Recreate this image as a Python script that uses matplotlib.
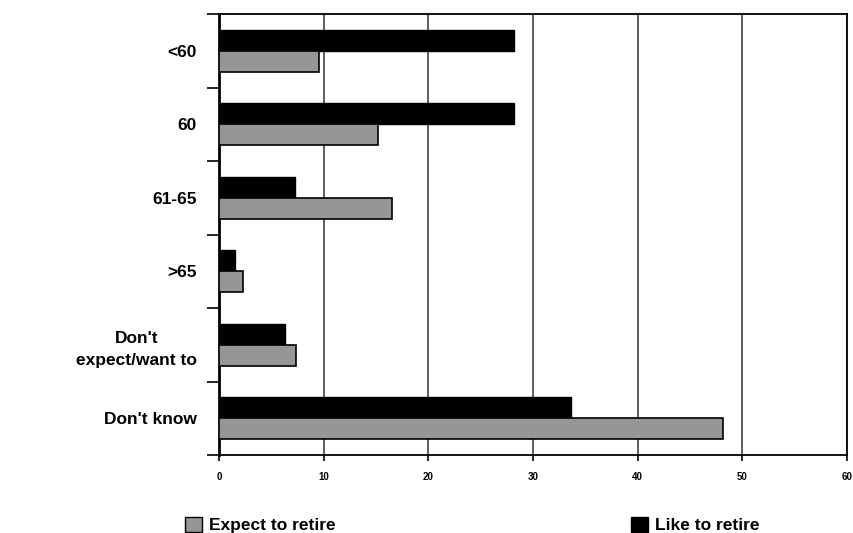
import matplotlib
matplotlib.use("Agg")
import matplotlib.pyplot as plt
import numpy as np
from matplotlib.patches import Patch

plt.rcParams['font.family'] = ['Liberation Sans', 'DejaVu Sans']

categories = ["<60", "60", "61-65", ">65", "Don't\nexpect/want to", "Don't know"]
expect_to_retire = [9.6, 15.2, 16.5, 2.3, 7.4, 48.2]
like_to_retire = [28.2, 28.2, 7.25, 1.5, 6.3, 33.6]
x_ticks = [0, 10, 20, 30, 40, 50, 60]

fig = plt.figure(figsize=(8.54, 5.33), dpi=100)
ax = fig.add_axes([219/854, 1-455/533, (847-219)/854, (455-14)/533])

y = np.arange(len(categories))
h = 0.286
ax.barh(y - h/2, like_to_retire, height=h, color="black", edgecolor="black",
        linewidth=1, zorder=3)
ax.barh(y + h/2, expect_to_retire, height=h, color="#969696", edgecolor="black",
        linewidth=1.2, zorder=3)

ax.set_xlim(0, 60)
ax.set_ylim(len(categories) - 0.5, -0.5)
ax.set_xticks(x_ticks)
ax.set_xticklabels([str(v) for v in x_ticks], fontsize=7, fontweight="bold")
ax.tick_params(axis="x", length=4, width=1.2, pad=8, color="black")

ax.set_yticks(y)
ax.set_yticklabels(categories, fontsize=12.5, fontweight="bold", ha="right",
                   multialignment="center", linespacing=1.6)
ax.set_yticks(np.arange(len(categories) + 1) - 0.5, minor=True)
ax.tick_params(axis="y", which="major", length=0, pad=16)
ax.tick_params(axis="y", which="minor", length=9, width=1.2, color="black")

ax.grid(axis="x", color="#333333", linewidth=1.1, zorder=0)
for s in ax.spines.values():
    s.set_linewidth(1.3)
    s.set_color("black")
ax.spines["left"].set_linewidth(2)

h1 = [Patch(facecolor="#969696", edgecolor="black", linewidth=1)]
h2 = [Patch(facecolor="black", edgecolor="black", linewidth=1)]
leg_kw = dict(frameon=False, handlelength=1.0, handleheight=1.0,
              handletextpad=0.4, borderpad=0, borderaxespad=0,
              prop={"size": 12.5, "weight": "bold"})
fig.legend(h1, ["Expect to retire"], loc="center left",
           bbox_to_anchor=(185/854, 1-525/533), **leg_kw)
fig.legend(h2, ["Like to retire"], loc="center left",
           bbox_to_anchor=(631/854, 1-525/533), **leg_kw)

fig.savefig("out.png", dpi=100)
